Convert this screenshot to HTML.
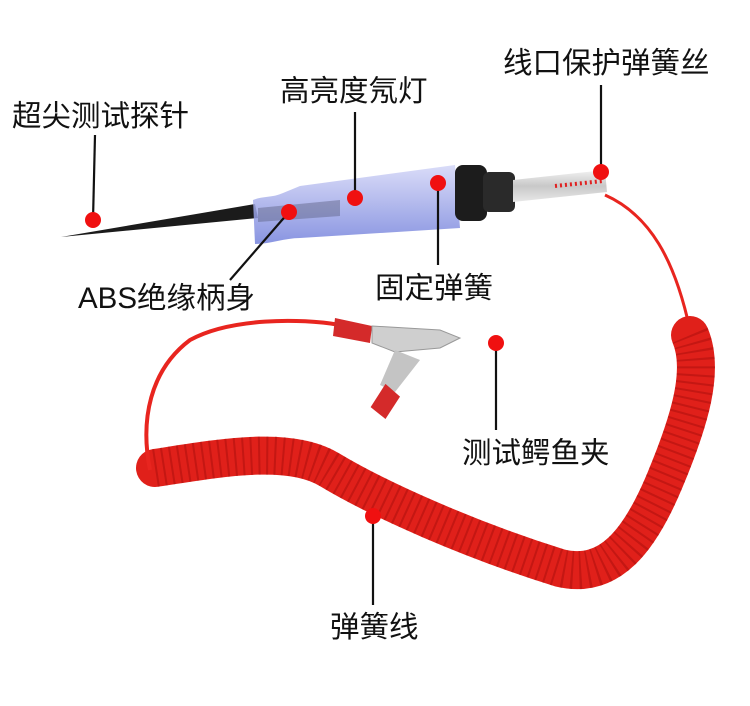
<!DOCTYPE html>
<html><head><meta charset="utf-8"><style>
html,body{margin:0;padding:0;background:#fff;}
svg{display:block}
text{font-family:"Liberation Sans","Noto Sans CJK SC",sans-serif;font-size:29.5px;fill:#111;}
</style></head><body>
<svg width="750" height="706" viewBox="0 0 750 706" xmlns="http://www.w3.org/2000/svg">
<defs>
<linearGradient id="hb" x1="0" y1="0" x2="0" y2="1">
<stop offset="0" stop-color="#d3d6f7"/><stop offset="0.5" stop-color="#a4ace9"/><stop offset="1" stop-color="#7482dc"/>
</linearGradient>
<linearGradient id="sv" x1="0" y1="0" x2="0" y2="1">
<stop offset="0" stop-color="#f2f2f2"/><stop offset="0.5" stop-color="#c8c8c8"/><stop offset="1" stop-color="#e8e8e8"/>
</linearGradient>
</defs>
<path d="M605,195 C650,215 675,260 690,330" stroke="#e8251f" stroke-width="3" fill="none"/>
<path d="M155,468 C220,458 290,445 330,470 C380,500 470,540 560,568 C610,580 640,540 665,480 C690,420 705,370 690,335" stroke="#e0201a" stroke-width="38" fill="none" stroke-linecap="round"/>
<path d="M155,468 C220,458 290,445 330,470 C380,500 470,540 560,568 C610,580 640,540 665,480 C690,420 705,370 690,335" stroke="#a80e0c" stroke-width="38" fill="none" stroke-dasharray="2 6" opacity="0.5"/>
<path d="M150,470 C140,420 150,370 190,340 C230,318 300,318 340,325" stroke="#e8251f" stroke-width="4" fill="none"/>
<path d="M335,318 L372,326 L370,343 L333,336 Z" fill="#d42a2a"/>
<path d="M372,326 L440,330 L460,338 L440,348 L395,352 L372,343 Z" fill="#cfcfcf" stroke="#999"/>
<path d="M395,350 L420,360 L395,392 L380,385 Z" fill="#c4c4c4"/>
<path d="M380,385 L398,392 L392,418 L374,412 Z" fill="#d42a2a" transform="rotate(20 386 400)"/>
<path d="M61,237 L255,204 L258,218 Z" fill="#1b1b1b"/>
<path d="M253,200 C262,196 272,198 283,193 L300,186 L455,165 L460,228 L300,238 C285,238 270,244 255,244 Z" fill="url(#hb)" opacity="0.85"/>
<path d="M258,208 L340,200 L340,216 L258,222 Z" fill="#5c5f80" opacity="0.45"/>
<rect x="455" y="165" width="32" height="56" rx="8" fill="#1c1c1c"/>
<rect x="483" y="172" width="32" height="40" rx="6" fill="#2a2a2a"/>
<path d="M513,180 L605,170 L607,192 L513,202 Z" fill="url(#sv)"/>
<path d="M555,186 L603,181" stroke="#e02020" stroke-width="4" stroke-dasharray="2 3"/>
<g stroke="#111" stroke-width="2.2">
<line x1="95" y1="135" x2="93" y2="220"/>
<line x1="355" y1="112" x2="355" y2="198"/>
<line x1="601" y1="85" x2="601" y2="172"/>
<line x1="289" y1="212" x2="230" y2="280"/>
<line x1="438" y1="183" x2="438" y2="265"/>
<line x1="496" y1="343" x2="496" y2="430"/>
<line x1="373" y1="516" x2="373" y2="605"/>
</g>
<g fill="#f01010">
<circle cx="93" cy="220" r="8"/>
<circle cx="355" cy="198" r="8"/>
<circle cx="601" cy="172" r="8"/>
<circle cx="289" cy="212" r="8"/>
<circle cx="438" cy="183" r="8"/>
<circle cx="496" cy="343" r="8"/>
<circle cx="373" cy="516" r="8"/>
</g>
<text x="12" y="126">超尖测试探针</text>
<text x="280" y="101">高亮度氖灯</text>
<text x="503" y="73">线口保护弹簧丝</text>
<text x="78" y="308">ABS绝缘柄身</text>
<text x="375" y="298">固定弹簧</text>
<text x="462" y="463">测试鳄鱼夹</text>
<text x="330" y="637">弹簧线</text>
</svg>
</body></html>
